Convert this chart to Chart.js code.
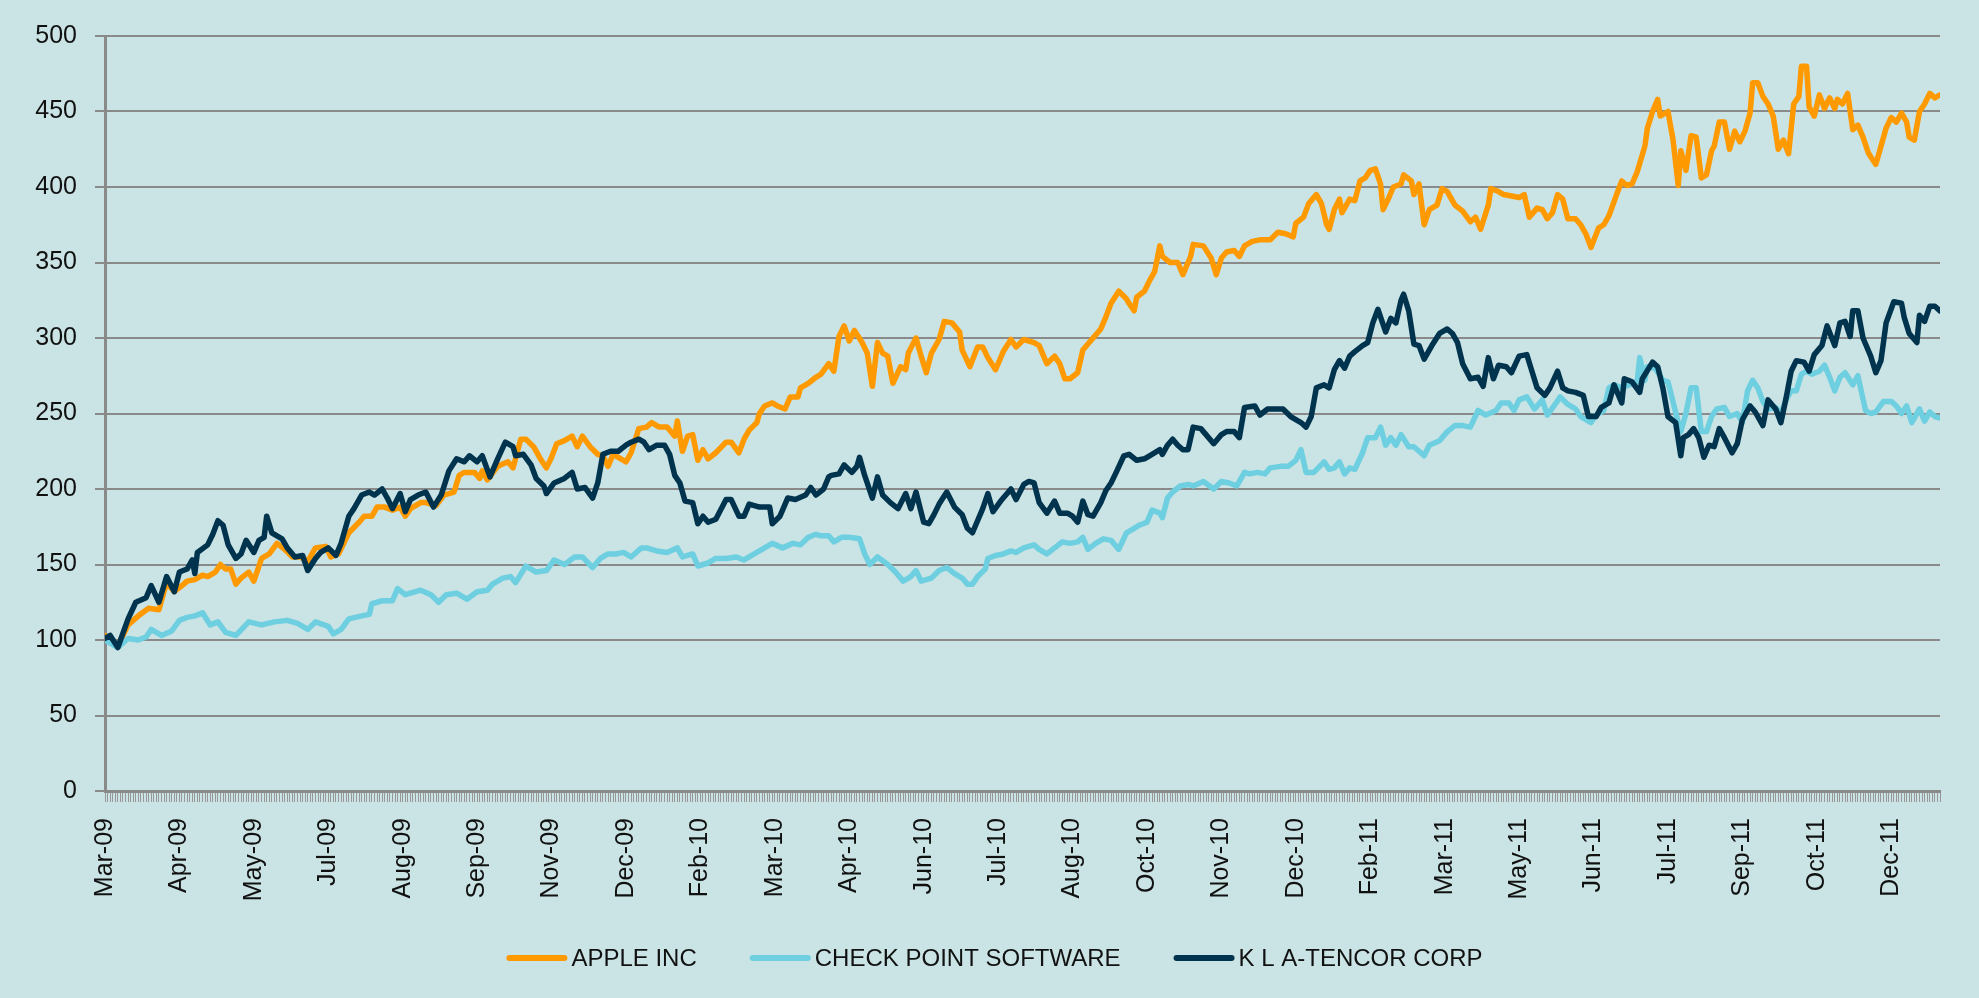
<!DOCTYPE html>
<html>
<head>
<meta charset="utf-8">
<script src="https://cdn.jsdelivr.net/npm/chart.js@4/dist/chart.umd.min.js"></script>
<style>
  html, body { margin: 0; padding: 0; background: #cae3e4; }
  canvas { display: block; }
</style>
</head>
<body>
<canvas id="stocks" width="1979" height="998"></canvas>
<script>
// trading-day index of each x label (one label every 29 days)
const LABEL_STEP = 29;
const LAST_DAY = 715;
const tickLabels = ['Mar-09', 'Apr-09', 'May-09', 'Jul-09', 'Aug-09', 'Sep-09', 'Nov-09', 'Dec-09',
  'Feb-10', 'Mar-10', 'Apr-10', 'Jun-10', 'Jul-10', 'Aug-10', 'Oct-10', 'Nov-10', 'Dec-10',
  'Feb-11', 'Mar-11', 'May-11', 'Jun-11', 'Jul-11', 'Sep-11', 'Oct-11', 'Dec-11'];
const seriesNames = ['APPLE INC', 'CHECK POINT SOFTWARE', 'K L A-TENCOR CORP'];

// values, rebased to 100 at the start
const appleDays = [0,5,9,13,17,21,24,27,30,32,35,38,40,43,45,47,49,51,53,56,58,61,64,67,70,73,76,79,82,86,88,91,95,99,101,104,106,109,112,115,117,
  119,123,125,129,132,136,138,140,144,146,147,149,153,157,159,162,164,167,170,172,174,176,179,182,184,186,189,192,194,196,198,200,203,205,208,211,213,216,219,222,223,225,227,229,231,233,235,238,
  242,244,247,249,251,254,255,257,260,262,265,267,270,271,274,277,279,282,284,286,288,290,292,295,297,299,301,303,305,307,310,312,313,316,318,320,322,325,327,330,333,334,337,340,342,344,347,350,353,355,358,362,
  364,367,370,372,374,376,379,381,383,385,388,390,392,395,398,399,401,402,405,407,409,411,412,415,418,420,423,424,428,431,433,435,437,440,442,444,447,450,454,457,460,463,464,467,469,472,474,476,477,479,481,482,485,
  487,489,491,493,495,497,498,500,502,505,506,509,510,512,514,516,519,521,523,526,529,532,534,536,539,540,543,545,548,551,553,555,558,560,562,564,566,568,570,573,575,577,579,582,584,586,589,591,593,595,597,600,601,603,605,606,609,
  611,613,614,616,618,620,622,624,626,627,629,631,633,635,637,639,641,642,644,646,648,650,652,654,656,658,660,661,663,664,666,668,670,672,674,675,677,679,681,683,685,687,688,690,692,694,696,698,700,702,703,705,707,709,711,713,715];
const appleValues = [103,96,110,116,121,120,138,132,136,139,140,143,142,145,150,147,147,137,141,145,139,154,157,164,160,155,155,152,161,162,155,157,171,178,182,182,188,188,186,188,182,
  187,191,191,189,196,198,209,211,211,207,212,206,215,218,214,233,233,228,219,214,221,230,232,235,228,235,228,223,222,215,223,221,218,224,240,241,244,241,241,235,245,225,235,236,219,226,220,224,
  231,231,224,233,239,244,250,255,257,255,253,261,261,267,270,274,276,283,278,301,308,298,305,297,290,268,297,290,288,270,281,279,290,300,288,277,290,299,311,310,304,292,281,294,294,287,279,291,299,294,299,297,
  295,283,288,283,273,273,277,292,296,300,306,314,323,331,326,323,318,327,331,338,344,361,354,350,350,342,354,362,361,353,342,353,357,358,354,361,364,365,365,370,369,367,376,380,389,395,389,375,372,385,392,383,392,
  391,404,406,411,412,402,385,392,400,402,408,404,395,402,375,385,388,399,397,388,384,377,380,372,388,399,397,395,394,393,395,380,386,385,379,383,395,392,379,379,375,369,360,373,375,381,395,404,401,402,410,427,439,450,458,447,450,
  431,401,424,411,434,433,406,408,424,427,443,443,425,437,430,437,449,469,469,460,455,447,425,431,422,455,460,480,480,453,447,461,452,459,452,458,455,462,438,441,433,423,420,415,427,439,446,443,449,443,433,431,450,455,462,459,461];

const checkDays = [0,5,9,13,16,18,22,26,29,32,35,38,41,44,47,51,56,61,66,71,75,79,82,87,89,92,95,100,103,104,108,112,114,117,
  119,123,127,130,133,137,141,145,149,151,155,158,160,164,168,172,175,179,183,186,190,193,196,199,202,205,209,211,215,219,223,225,229,231,235,238,
  242,246,249,253,257,260,264,268,271,274,277,279,282,284,287,290,294,296,298,301,305,308,311,314,316,318,322,325,328,331,334,336,338,340,343,344,347,350,353,355,358,362,
  364,367,370,373,376,379,381,383,386,389,392,395,398,401,403,406,408,411,412,414,416,419,422,424,428,432,435,438,441,444,446,449,452,454,458,461,464,466,468,471,475,477,479,481,483,485,
  487,490,492,495,497,499,501,503,505,508,510,514,516,520,523,526,529,532,535,538,542,544,547,549,551,554,557,560,562,565,567,570,573,575,579,581,584,586,588,591,594,597,598,600,601,604,607,609,
  613,614,616,618,620,622,624,626,628,631,633,636,638,640,642,644,646,648,651,653,655,657,659,661,663,665,668,670,672,674,676,678,681,683,686,688,690,693,696,698,700,702,704,707,709,711,713,715];
const checkValues = [100,95,101,100,102,107,103,106,113,115,116,118,110,112,105,103,112,110,112,113,111,107,112,109,104,107,114,116,117,124,126,126,134,130,
  131,133,130,125,130,131,127,132,133,137,141,142,138,149,145,146,153,150,155,155,148,154,157,157,158,155,161,161,159,158,161,155,157,149,151,154,
  154,155,153,157,161,164,161,164,163,168,170,169,169,165,168,168,167,157,150,155,150,145,139,142,146,139,141,146,148,144,141,137,137,142,147,154,156,157,159,158,161,163,
  160,157,161,165,164,165,168,160,164,167,166,160,171,174,176,178,186,184,181,194,198,202,203,202,205,200,205,204,202,211,210,211,210,214,215,215,219,226,211,211,218,213,214,218,210,214,
  213,224,234,234,241,229,234,229,236,228,228,222,229,232,238,242,242,241,252,249,252,257,257,252,259,261,253,259,249,256,261,256,253,248,244,249,252,267,269,267,269,271,287,272,281,280,272,271,
  244,238,250,267,267,238,238,248,253,254,248,250,244,265,272,267,258,253,254,250,259,265,265,276,278,276,278,282,274,265,274,277,269,275,252,250,251,258,258,255,250,255,244,253,245,251,248,247];

const klaDays = [0,2,5,9,12,16,18,21,24,27,29,32,34,35,36,40,42,44,46,48,51,53,55,58,60,62,63,65,67,69,71,74,77,79,82,84,87,90,92,95,97,100,103,105,108,110,112,115,117,
  119,122,125,128,131,134,137,140,142,145,147,150,153,156,159,160,163,166,168,171,172,175,179,182,184,187,190,192,194,197,200,203,205,208,210,212,215,218,220,222,224,226,229,231,233,235,238,
  242,244,247,249,251,255,259,260,263,266,269,273,275,277,280,282,283,286,288,291,293,294,296,299,301,303,306,309,312,314,316,319,321,323,325,328,331,334,336,338,342,344,346,349,353,355,358,360,362,
  364,367,370,372,375,377,379,381,383,385,388,390,392,394,397,399,402,405,407,411,412,414,416,418,420,422,424,427,429,432,435,437,440,442,444,448,450,453,455,459,462,466,468,470,472,475,477,479,481,483,485,
  487,490,492,494,496,499,501,503,505,506,508,510,512,514,517,520,523,525,527,529,532,535,537,539,541,543,546,548,551,554,556,558,561,563,566,568,570,573,576,578,581,583,586,588,591,592,595,598,599,603,605,607,609,
  612,614,615,617,619,621,623,625,627,629,631,634,636,638,641,643,646,648,651,653,655,657,659,662,664,666,669,671,674,676,678,680,681,683,685,688,690,692,694,697,700,701,703,706,707,709,711,713,715];
const klaValues = [101,103,95,114,125,128,136,125,142,132,145,147,153,144,158,163,170,179,176,163,154,157,166,158,166,168,182,171,169,167,161,155,156,146,154,158,161,156,164,182,187,196,198,196,200,194,187,197,185,
  193,196,198,188,196,212,220,218,222,218,222,208,220,231,228,222,223,216,207,202,197,204,207,211,200,201,194,204,223,225,225,229,231,233,231,226,229,229,223,209,204,192,191,177,182,178,180,
  193,193,182,182,190,188,188,177,182,194,193,196,201,196,200,208,209,210,216,211,215,221,209,194,208,196,191,187,197,187,198,178,177,183,190,198,188,183,174,171,187,197,185,192,200,193,203,205,204,
  191,184,192,184,184,182,178,192,183,182,191,199,204,211,222,223,219,220,222,226,223,229,233,229,226,226,241,240,236,230,236,238,238,234,254,255,249,253,253,253,248,244,241,248,267,269,267,279,285,280,288,
  291,295,297,310,319,304,313,310,325,329,318,296,295,286,295,303,306,303,297,283,273,274,268,287,273,282,281,277,288,289,278,267,262,267,278,267,265,264,262,248,248,254,257,269,257,273,271,264,273,284,281,267,248,
  244,222,234,236,240,234,221,229,228,240,234,224,230,246,255,251,242,259,253,244,260,278,285,284,278,289,295,308,295,310,311,301,318,318,300,288,277,285,310,324,323,314,303,297,315,311,321,321,318];

const seriesColors = ['#ff9900', '#6dcfe0', '#00334d'];
const AXIS_GREY = '#8a8a8a';
const FONT_FAMILY = "'Liberation Sans', Arial, sans-serif";

function toPoints(days, values) {
  return days.map((d, i) => ({ x: d, y: values[i] }));
}

// fill the whole canvas with the pale teal background
const backgroundPlugin = {
  id: 'pageBackground',
  beforeDraw(chart) {
    const ctx = chart.ctx;
    ctx.save();
    ctx.fillStyle = '#cae3e4';
    ctx.fillRect(0, 0, chart.width, chart.height);
    ctx.restore();
  }
};

// legend drawn like the Excel one: long line swatch, text right next to it
const bottomLegend = {
  id: 'bottomLegend',
  afterDraw(chart) {
    const ctx = chart.ctx;
    const swatch = 61, gap = 4, spacing = 53;
    ctx.save();
    ctx.font = '24px ' + FONT_FAMILY;
    const items = chart.data.datasets.map(ds => ({
      label: ds.label, color: ds.borderColor, w: ctx.measureText(ds.label).width
    }));
    const total = items.reduce((s, it) => s + swatch + gap + it.w, 0) + spacing * (items.length - 1);
    let x = (chart.width - total) / 2 + 5;
    const y = 958;
    items.forEach(it => {
      ctx.strokeStyle = it.color;
      ctx.lineWidth = 6;
      ctx.lineCap = 'round';
      ctx.beginPath();
      ctx.moveTo(x + 3, y);
      ctx.lineTo(x + swatch - 3, y);
      ctx.stroke();
      ctx.fillStyle = '#111';
      ctx.textBaseline = 'middle';
      ctx.fillText(it.label, x + swatch + gap, y + 1);
      x += swatch + gap + it.w + spacing;
    });
    ctx.restore();
  }
};

const datasets = [
  { label: seriesNames[0], data: toPoints(appleDays, appleValues), order: 2 },
  { label: seriesNames[1], data: toPoints(checkDays, checkValues), order: 1 },
  { label: seriesNames[2], data: toPoints(klaDays, klaValues), order: 0 }
].map((ds, i) => ({
  ...ds,
  borderColor: seriesColors[i],
  backgroundColor: seriesColors[i],
  borderWidth: 5.5,
  pointRadius: 0,
  tension: 0,
  fill: false,
  borderJoinStyle: 'round',
  borderCapStyle: 'round'
}));

new Chart(document.getElementById('stocks'), {
  type: 'line',
  data: { datasets },
  options: {
    responsive: false,
    animation: false,
    devicePixelRatio: 1,
    layout: { padding: { top: 36, right: 39, bottom: 0, left: 0 } },
    plugins: {
      legend: { display: false },
      tooltip: { enabled: false }
    },
    scales: {
      x: {
        type: 'linear',
        min: 0,
        max: LAST_DAY,
        afterFit(scale) {
          scale.height = 207;
          scale.paddingLeft = 0;
          scale.paddingRight = 0;
        },
        border: { color: AXIS_GREY, width: 3 },
        grid: {
          drawOnChartArea: false,
          drawTicks: true,
          tickLength: 11,
          color: '#979797',
          lineWidth: 1
        },
        ticks: {
          stepSize: 1,
          autoSkip: false,
          minRotation: 90,
          maxRotation: 90,
          padding: 16,
          color: '#111',
          font: { family: FONT_FAMILY, size: 25 },
          callback: v => (v % LABEL_STEP === 0 && tickLabels[v / LABEL_STEP]) ? tickLabels[v / LABEL_STEP] : ''
        }
      },
      y: {
        min: 0,
        max: 500,
        afterFit(scale) { scale.width = 105; },
        border: { color: AXIS_GREY, width: 3 },
        grid: {
          color: AXIS_GREY,
          lineWidth: 2,
          tickLength: 10,
          tickColor: AXIS_GREY,
          tickWidth: 2
        },
        ticks: {
          stepSize: 50,
          padding: 18,
          color: '#111',
          font: { family: FONT_FAMILY, size: 25 }
        }
      }
    }
  },
  plugins: [backgroundPlugin, bottomLegend]
});
</script>
</body>
</html>
